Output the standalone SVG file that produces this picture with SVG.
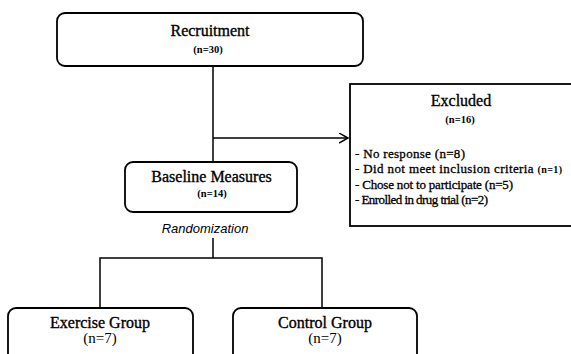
<svg xmlns="http://www.w3.org/2000/svg" width="571" height="354" viewBox="0 0 571 354">
<style>
.box{fill:#fff;stroke:#000;stroke-width:1.8}
.ln{fill:none;stroke:#000;stroke-width:1.5}
.h{font-size:16px;text-anchor:middle;fill:#000;stroke:#000;stroke-width:0.35}
.n{font-weight:bold;font-size:10.5px;text-anchor:middle;fill:#000}
.nr{font-size:15px;text-anchor:middle;fill:#000}
.li{font-size:13px;fill:#000;stroke:#000;stroke-width:0.3}
.it{font-style:italic;font-size:13px;text-anchor:middle;fill:#000}
</style>
<defs>
<marker id="arr" markerUnits="userSpaceOnUse" markerWidth="12" markerHeight="12" refX="9" refY="5" orient="auto">
<path d="M0,0 L9,5 L0,10" fill="none" stroke="#000" stroke-width="1.5"/>
</marker>
</defs>
<g id="connectors">
<line class="ln" x1="213" y1="66" x2="213" y2="162"/>
<line class="ln" x1="213" y1="138" x2="348" y2="138" marker-end="url(#arr)"/>
<line class="ln" x1="213" y1="238" x2="213" y2="258"/>
<polyline class="ln" points="100,308 100,258 322,258 322,308"/>
</g>
<g font-family="'Liberation Serif', 'Times New Roman', serif">
<g id="recruitment">
<rect class="box" x="57" y="13" width="306" height="53" rx="8"/>
<text class="h" x="210" y="35.5">Recruitment</text>
<text class="n" x="208" y="53">(n=30)</text>
</g>
<g id="excluded">
<rect class="box" x="350" y="84" width="240" height="142"/>
<text class="h" x="461" y="106">Excluded</text>
<text class="n" x="460" y="123">(n=16)</text>
<text class="li" x="355" y="157.5" textLength="110">- No response (n=8)</text>
<text class="li" x="355" y="173" textLength="207">- Did not meet inclusion criteria <tspan font-size="10px" font-weight="bold" stroke-width="0">(n=1)</tspan></text>
<text class="li" x="355" y="188.5" textLength="158">- Chose not to participate (n=5)</text>
<text class="li" x="355" y="204" textLength="133">- Enrolled in drug trial (n=2)</text>
</g>
<g id="baseline">
<rect class="box" x="125" y="162" width="172" height="50" rx="8"/>
<text class="h" x="211.5" y="182">Baseline Measures</text>
<text class="n" x="212" y="197">(n=14)</text>
</g>
<g id="exercise">
<rect class="box" x="8" y="308" width="185" height="60" rx="8"/>
<text class="h" x="100" y="328">Exercise Group</text>
<text class="nr" x="100" y="343">(n=7)</text>
</g>
<g id="control">
<rect class="box" x="233" y="308" width="184" height="60" rx="8"/>
<text class="h" x="325" y="328">Control Group</text>
<text class="nr" x="325" y="343">(n=7)</text>
</g>
</g>
<g id="randomization" font-family="'Liberation Sans', Arial, sans-serif">
<text class="it" x="205" y="233">Randomization</text>
</g>
</svg>
